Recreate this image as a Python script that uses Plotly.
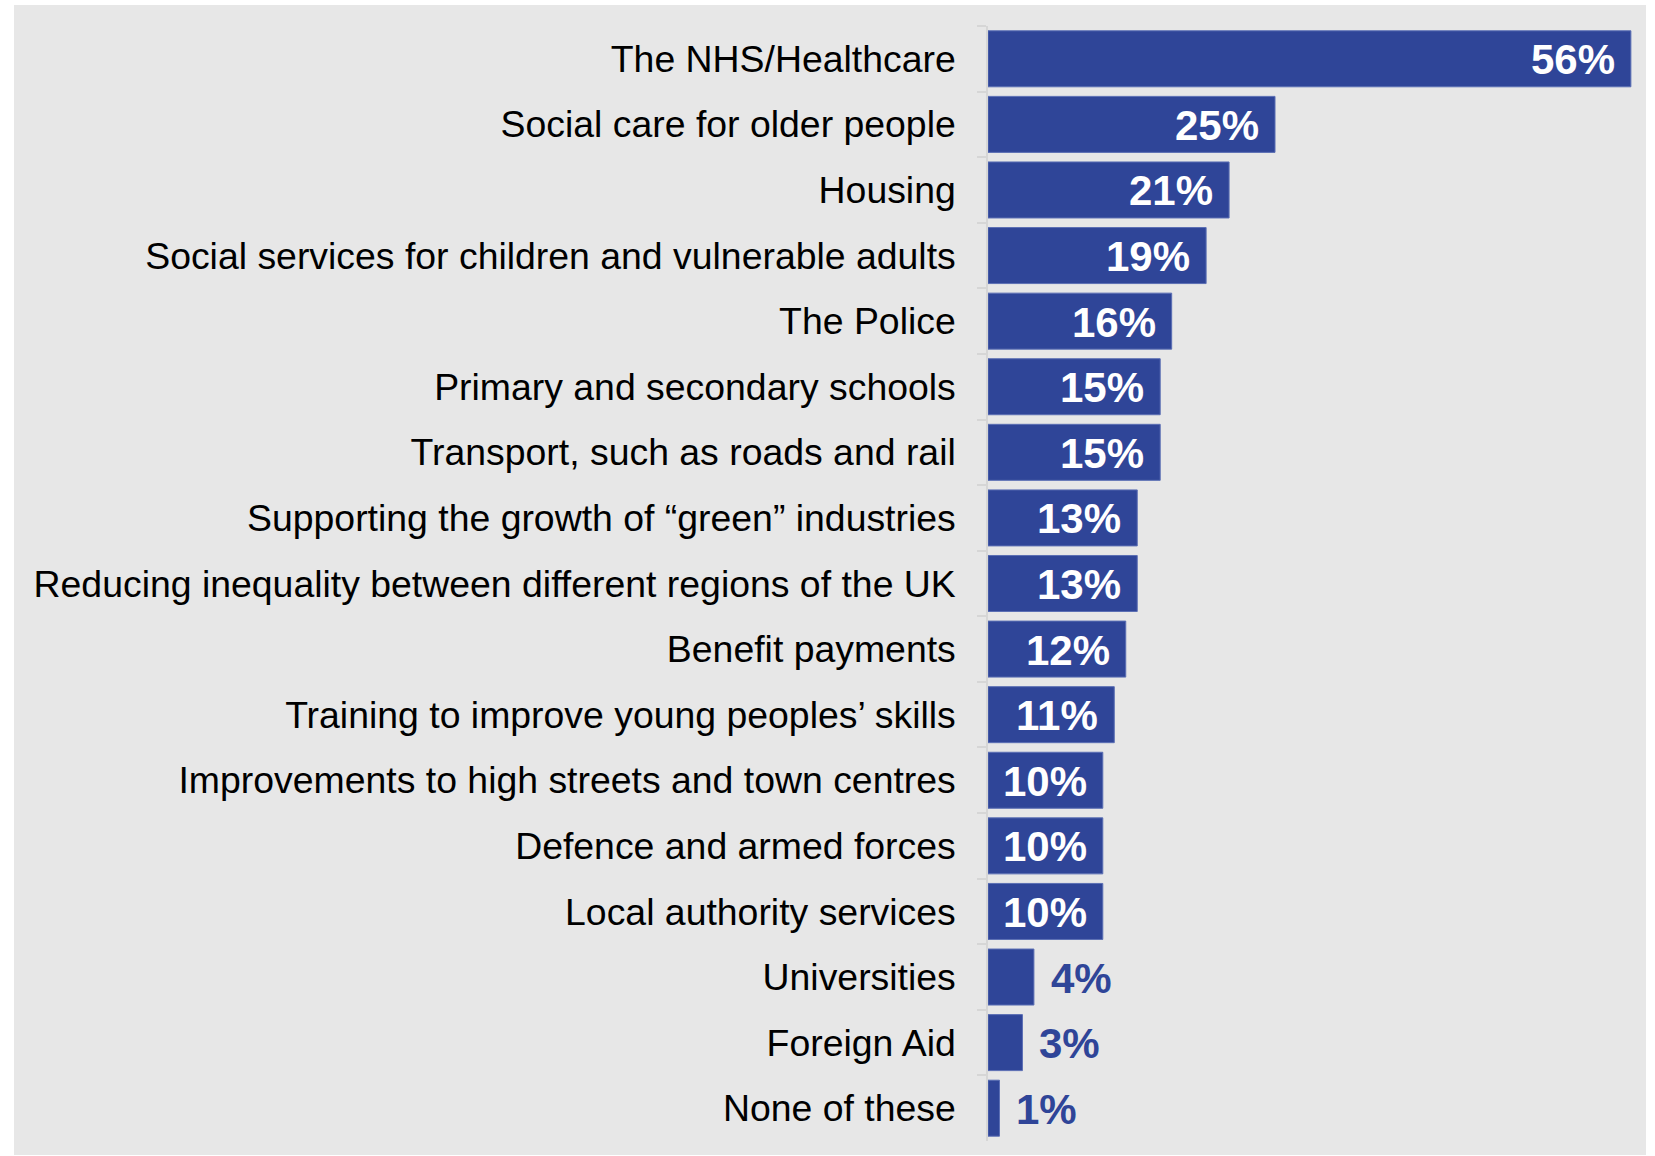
import plotly.graph_objects as go

# Share of respondents choosing each area for public spending priority
categories = [
    "The NHS/Healthcare",
    "Social care for older people",
    "Housing",
    "Social services for children and vulnerable adults",
    "The Police",
    "Primary and secondary schools",
    "Transport, such as roads and rail",
    "Supporting the growth of “green” industries",
    "Reducing inequality between different regions of the UK",
    "Benefit payments",
    "Training to improve young peoples’ skills",
    "Improvements to high streets and town centres",
    "Defence and armed forces",
    "Local authority services",
    "Universities",
    "Foreign Aid",
    "None of these",
]
values = [56, 25, 21, 19, 16, 15, 15, 13, 13, 12, 11, 10, 10, 10, 4, 3, 1]

BAR = "#2F4598"
BAR_EDGE = "#5B6FB4"
PANEL = "#E7E7E7"
AXIS = "#D6D6D6"
FONT = "Liberation Sans, Arial, sans-serif"

W, H = 1655, 1156
ML, MR, MT, MB = 988, 9, 26, 15
plot_w = W - ML - MR
plot_h = H - MT - MB

fig = go.Figure(
    go.Bar(
        x=values,
        y=categories,
        orientation="h",
        marker=dict(color=BAR, line=dict(color=BAR_EDGE, width=1)),
        hoverinfo="skip",
    )
)

# value labels: white inside long bars, blue just past short ones
for cat, v in zip(categories, values):
    inside = v >= 8
    fig.add_annotation(
        x=v,
        y=cat,
        text=f"{v}%",
        showarrow=False,
        xanchor="right" if inside else "left",
        yanchor="middle",
        xshift=-14 if inside else 15,
        yshift=-1,
        font=dict(family=FONT, size=42, color="white" if inside else BAR, weight="bold"),
    )

# grey panel behind the chart
fig.add_shape(
    type="rect",
    xref="paper",
    yref="paper",
    x0=(14 - ML) / plot_w,
    x1=(1646 - ML) / plot_w,
    y0=-(1155 - (H - MB)) / plot_h,
    y1=1 + (MT - 5) / plot_h,
    fillcolor=PANEL,
    line=dict(width=0),
    layer="below",
)

fig.update_layout(
    width=W,
    height=H,
    margin=dict(l=ML, r=MR, t=MT, b=MB, pad=0),
    paper_bgcolor="white",
    plot_bgcolor="rgba(0,0,0,0)",
    bargap=0.146,
    showlegend=False,
    font=dict(family=FONT, color="black"),
)
fig.update_xaxes(
    range=[0, plot_w / 11.48],
    visible=False,
    showgrid=False,
    zeroline=False,
)
fig.update_yaxes(
    categoryorder="array",
    categoryarray=categories,
    autorange="reversed",
    showgrid=False,
    zeroline=False,
    showline=True,
    linecolor=AXIS,
    linewidth=1.5,
    ticks="outside",
    tickson="boundaries",
    ticklen=9,
    tickcolor=AXIS,
    tickwidth=1.5,
    ticklabelstandoff=23,
    tickfont=dict(family=FONT, size=37.4, color="black"),
)

fig.write_html("out.html")
